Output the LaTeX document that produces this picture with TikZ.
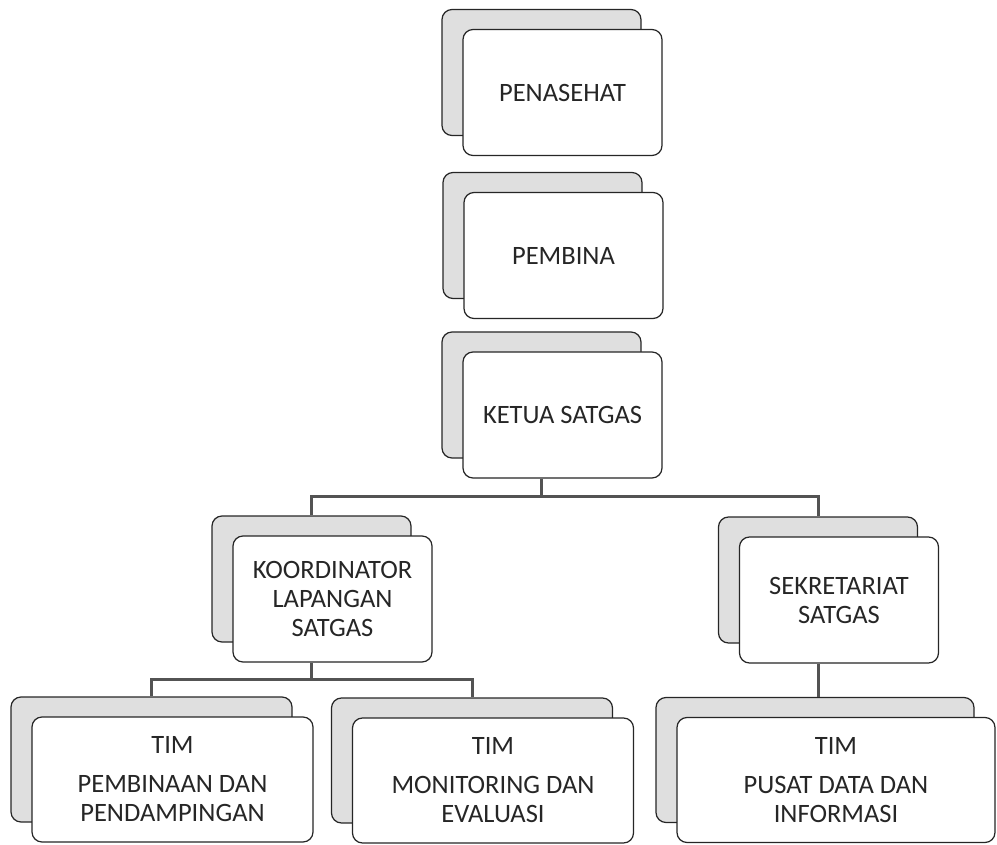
\documentclass[tikz,border=0pt]{standalone}
\usepackage{fontspec}
\setmainfont{Carlito}
\usetikzlibrary{positioning,calc}

\begin{document}
\begin{tikzpicture}[x=1pt,y=-1pt,
  box/.style={draw=black!85, rounded corners=10pt, line width=1.2pt, fill=white,
    minimum width=199pt, minimum height=126pt, inner sep=0pt, align=center,
    font=\fontsize{26.5}{29}\selectfont, text=black!85},
  backbox/.style={box, fill=gray!25},
  wide/.style={minimum width=281pt, minimum height=125pt},
  wider/.style={minimum width=318pt, minimum height=125pt},
  link/.style={draw=gray!65!black, line width=3pt}]
\useasboundingbox (0,0) rectangle (997,845);

\node[backbox] (penasehatB) at (541.5,72.5) {};
\node[box] (penasehat) at (562.5,92.5) {PENASEHAT};

\node[backbox] (pembinaB) at (542.5,235.5) {};
\node[box] (pembina) at (563.5,255.5) {PEMBINA};

\node[backbox] (ketuaB) at (541.5,395) {};
\node[box] (ketua) at (562.5,415) {KETUA SATGAS};

\node[backbox] (koordB) at (311.5,579) {};
\node[box] (koord) at (332.5,599) {KOORDINATOR\\LAPANGAN\\SATGAS};

\node[backbox] (sekretB) at (818,580) {};
\node[box] (sekret) at (839,600) {SEKRETARIAT\\SATGAS};

\node[backbox,wide] (pembinaanB) at (151.5,759.5) {};
\node[box,wide] (pembinaan) at (172.5,779.5) {TIM\\[10pt]PEMBINAAN DAN\\PENDAMPINGAN};

\node[backbox,wide] (monevB) at (472,760.5) {};
\node[box,wide] (monev) at (493,780.5) {TIM\\[10pt]MONITORING DAN\\EVALUASI};

\node[backbox,wider] (pusdatinB) at (815,760) {};
\node[box,wider] (pusdatin) at (836,780) {TIM\\[10pt]PUSAT DATA DAN\\INFORMASI};

\coordinate (bus1) at ($(ketuaB.center |- ketua.south)+(0,18)$);
\coordinate (bus2) at ($(koordB.center |- koord.south)+(0,17)$);

\draw[link] (ketuaB.center |- ketua.south) -- (bus1);
\draw[link] (koordB.north) |- (bus1) -| (sekretB.north);
\draw[link] (koordB.center |- koord.south) -- (bus2);
\draw[link] (pembinaanB.north) |- (bus2) -| (monevB.north);
\draw[link] (sekretB.center |- sekret.south) -- (sekretB.center |- pusdatinB.north);
\end{tikzpicture}
\end{document}
